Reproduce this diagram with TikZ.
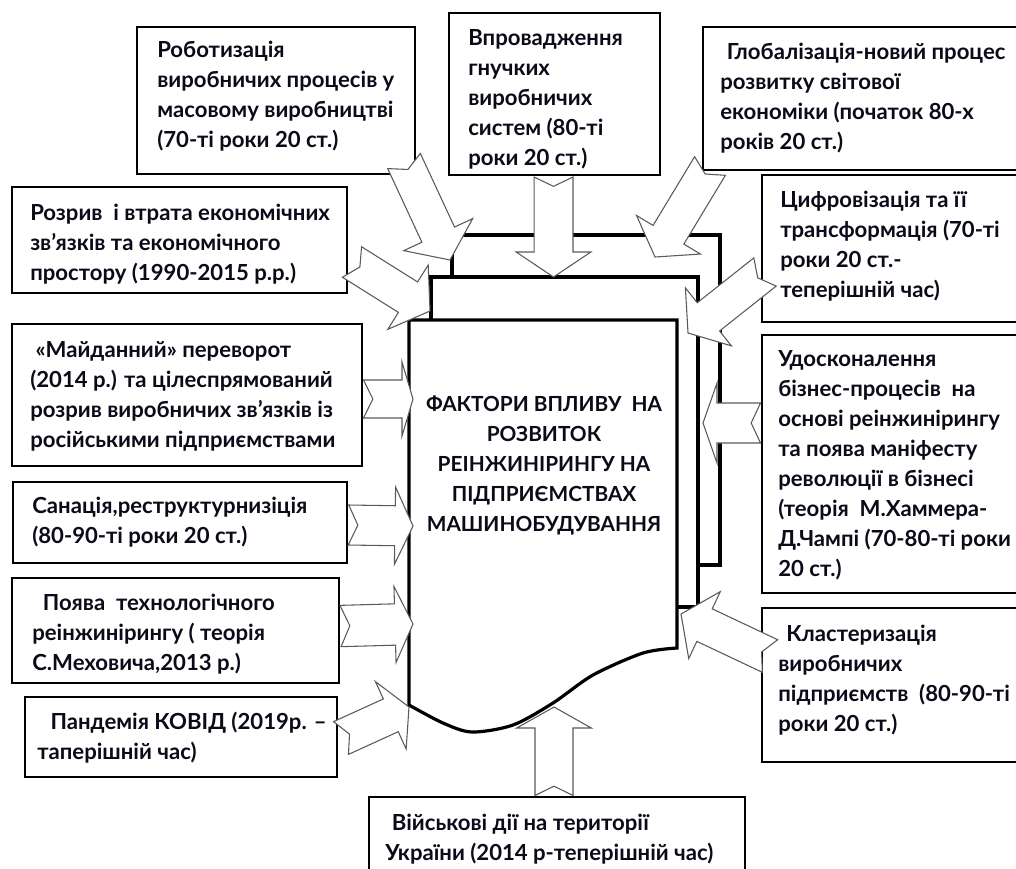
\documentclass[tikz,border=0pt]{standalone}
\usepackage{fontspec}
\setmainfont{Lato}
\usetikzlibrary{calc}

\definecolor{arrowgray}{RGB}{90,90,90}
\definecolor{factorink}{RGB}{10,10,25}

% notched block arrow: tail, tip, shaft half width, head half width, head length
\newcommand{\factorarrow}[5]{%
  \coordinate (#1-base) at ($(#2)!#5!(#1)$);
  \draw[blockarrow] ($(#1)!#3!90:(#2)$) -- ($(#1-base)!#3!90:(#2)$) -- ($(#1-base)!#4!90:(#2)$) -- (#2)
    -- ($(#1-base)!#4!-90:(#2)$) -- ($(#1-base)!#3!-90:(#2)$) -- ($(#1)!#3!-90:(#2)$) -- ($(#1)!7pt!(#2)$) -- cycle;
}

\begin{document}
\begin{tikzpicture}[x=0.75pt,y=-0.75pt]

\tikzset{layer/.style = {draw, fill=white, line width=2.4pt}}
\tikzset{factor/.style = {draw, fill=white, line width=2pt, anchor=north west, outer sep=0pt, inner sep=0pt}}
\tikzset{factortext/.style = {anchor=west, align=left, inner sep=0pt, text=factorink,
  font=\fontsize{16.6}{22.5}\selectfont\bfseries}}
\tikzset{blockarrow/.style = {draw=arrowgray, fill=white, line width=0.8pt}}

\useasboundingbox (0,0) rectangle (1016,868);

%centre block
\draw[layer] (452,277) -- (452,235) -- (720,235) -- (720,565) -- (698,565);
\draw[layer] (431,320) -- (431,277) -- (698,277) -- (698,607) -- (677,607);
\draw[layer] plot[smooth] coordinates {(677,648) (643,653) (593,675) (553,703) (513,725) (472,732) (443,723) (409,705)}
  -- (409,320) -- (677,320) -- cycle;
\node[factortext, anchor=center, align=center, font=\fontsize{15.6}{22.5}\selectfont\bfseries] (title) at (544,465)
  {ФАКТОРИ ВПЛИВУ~ НА\\ РОЗВИТОК\\ РЕІНЖИНІРИНГУ НА\\ ПІДПРИЄМСТВАХ\\ МАШИНОБУДУВАННЯ};

%factor boxes
\node[factor, minimum width=278*0.75pt, minimum height=147*0.75pt] (robot) at (137,27) {};
\node[factor, minimum width=211*0.75pt, minimum height=162*0.75pt] (vprov) at (449,13) {};
\node[factor, minimum width=327*0.75pt, minimum height=143*0.75pt] (global) at (703,27) {};
\node[factor, minimum width=268*0.75pt, minimum height=147*0.75pt] (digital) at (762,175) {};
\node[factor, minimum width=268*0.75pt, minimum height=258*0.75pt] (udosk) at (762,335) {};
\node[factor, minimum width=268*0.75pt, minimum height=154*0.75pt] (klaster) at (762,608) {};
\node[factor, minimum width=335*0.75pt, minimum height=106*0.75pt] (rozryv) at (12,187) {};
\node[factor, minimum width=350*0.75pt, minimum height=142*0.75pt] (maidan) at (12,324) {};
\node[factor, minimum width=334*0.75pt, minimum height=81*0.75pt] (sanatsia) at (13,482) {};
\node[factor, minimum width=327*0.75pt, minimum height=105*0.75pt] (poyava) at (12,578) {};
\node[factor, minimum width=312*0.75pt, minimum height=80*0.75pt] (pandemia) at (25,697) {};
\node[factor, minimum width=376*0.75pt, minimum height=83*0.75pt] (viysk) at (369,797) {};

%factor texts
\node[factortext] (robot-text) at ($(robot.west)+(20,-4)$)
  {Роботизація\\ виробничих процесів у\\ масовому виробництві\\ (70-ті роки 20 ст.)};
\node[factortext] (vprov-text) at ($(vprov.west)+(19,5)$)
  {Впровадження\\ гнучких\\ виробничих\\ систем (80-ті\\ роки 20 ст.)};
\node[factortext] (global-text) at ($(global.west)+(17,0)$)
  {\hspace{5pt}Глобалізація-новий процес\\ розвитку світової\\ економіки (початок 80-х\\ років 20 ст.)};
\node[factortext] (digital-text) at ($(digital.west)+(18,-2)$)
  {Цифровізація та її\\ трансформація (70-ті\\ роки 20 ст.-\\ теперішній час)};
\node[factortext] (udosk-text) at ($(udosk.west)+(16,1)$)
  {Удосконалення\\ бізнес-процесів~ на\\ основі реінжинірингу\\ та поява маніфесту\\ революції в бізнесі\\ (теорія~ М.Хаммера-\\ Д.Чампі (70-80-ті роки\\ 20 ст.)};
\node[factortext] (klaster-text) at ($(klaster.west)+(16,-5)$)
  {\hspace{6pt}Кластеризація\\ виробничих\\ підприємств~ (80-90-ті\\ роки 20 ст.)};
\node[factortext] (rozryv-text) at ($(rozryv.west)+(18,4)$)
  {Розрив~ і втрата економічних\\ зв’язків та економічного\\ простору (1990-2015 р.р.)};
\node[factortext] (maidan-text) at ($(maidan.west)+(18,1)$)
  {\hspace{4pt}«Майданний» переворот\\ (2014 р.) та цілеспрямований\\ розрив виробничих зв’язків із\\ російськими підприємствами};
\node[factortext] (sanatsia-text) at ($(sanatsia.west)+(19,0)$)
  {Санація,реструктурнизіція\\ (80-90-ті роки 20 ст.)};
\node[factortext] (poyava-text) at ($(poyava.west)+(20,4)$)
  {\hspace{8pt}Поява~ технологічного\\ реінжинірингу ( теорія\\ С.Меховича,2013 р.)};
\node[factortext] (pandemia-text) at ($(pandemia.west)+(12,1)$)
  {\hspace{10pt}Пандемія КОВІД (2019р. –\\ таперішній час)};
\node[factortext] (viysk-text) at ($(viysk.west)+(16,1)$)
  {\hspace{5pt}Військові дії на території\\ України (2014 р-теперішній час)};

%arrows
\coordinate (robot-tail) at (404,161);     \coordinate (robot-tip) at (450,260);
\coordinate (vprov-tail) at (553.5,177);   \coordinate (vprov-tip) at (553.5,277);
\coordinate (global-tail) at (710,166);    \coordinate (global-tip) at (655,257);
\coordinate (digital-tail) at (765,272);   \coordinate (digital-tip) at (688,333);
\coordinate (udosk-tail) at (760.5,423);   \coordinate (udosk-tip) at (703,423);
\coordinate (klaster-tail) at (770,656);   \coordinate (klaster-tip) at (681,614);
\coordinate (rozryv-tail) at (352,262);    \coordinate (rozryv-tip) at (430,311);
\coordinate (maidan-tail) at (363.5,399);  \coordinate (maidan-tip) at (413,399);
\coordinate (sanatsia-tail) at (348.5,525);\coordinate (sanatsia-tip) at (413,526);
\coordinate (poyava-tail) at (340.5,626);  \coordinate (poyava-tip) at (413,624);
\coordinate (pandemia-tail) at (341,738);  \coordinate (pandemia-tip) at (409,707);
\coordinate (viysk-tail) at (554,795.5);   \coordinate (viysk-tip) at (554,707);

\factorarrow{robot-tail}{robot-tip}{13.5pt}{28.5pt}{21pt}
\factorarrow{vprov-tail}{vprov-tip}{14.6pt}{28pt}{18.75pt}
\factorarrow{global-tail}{global-tip}{13.5pt}{28pt}{19.5pt}
\factorarrow{digital-tail}{digital-tip}{13.5pt}{27.75pt}{19.5pt}
\factorarrow{udosk-tail}{udosk-tip}{15pt}{30pt}{10.5pt}
\factorarrow{klaster-tail}{klaster-tip}{13.5pt}{27.75pt}{19.5pt}
\factorarrow{rozryv-tail}{rozryv-tip}{13.5pt}{28.5pt}{19.5pt}
\factorarrow{maidan-tail}{maidan-tip}{14.25pt}{27.75pt}{8.25pt}
\factorarrow{sanatsia-tail}{sanatsia-tip}{15pt}{29pt}{13.5pt}
\factorarrow{poyava-tail}{poyava-tip}{15.5pt}{28.5pt}{13.5pt}
\factorarrow{pandemia-tail}{pandemia-tip}{13.5pt}{27.75pt}{15pt}
\factorarrow{viysk-tail}{viysk-tip}{14.25pt}{28pt}{15.75pt}

\end{tikzpicture}
\end{document}
